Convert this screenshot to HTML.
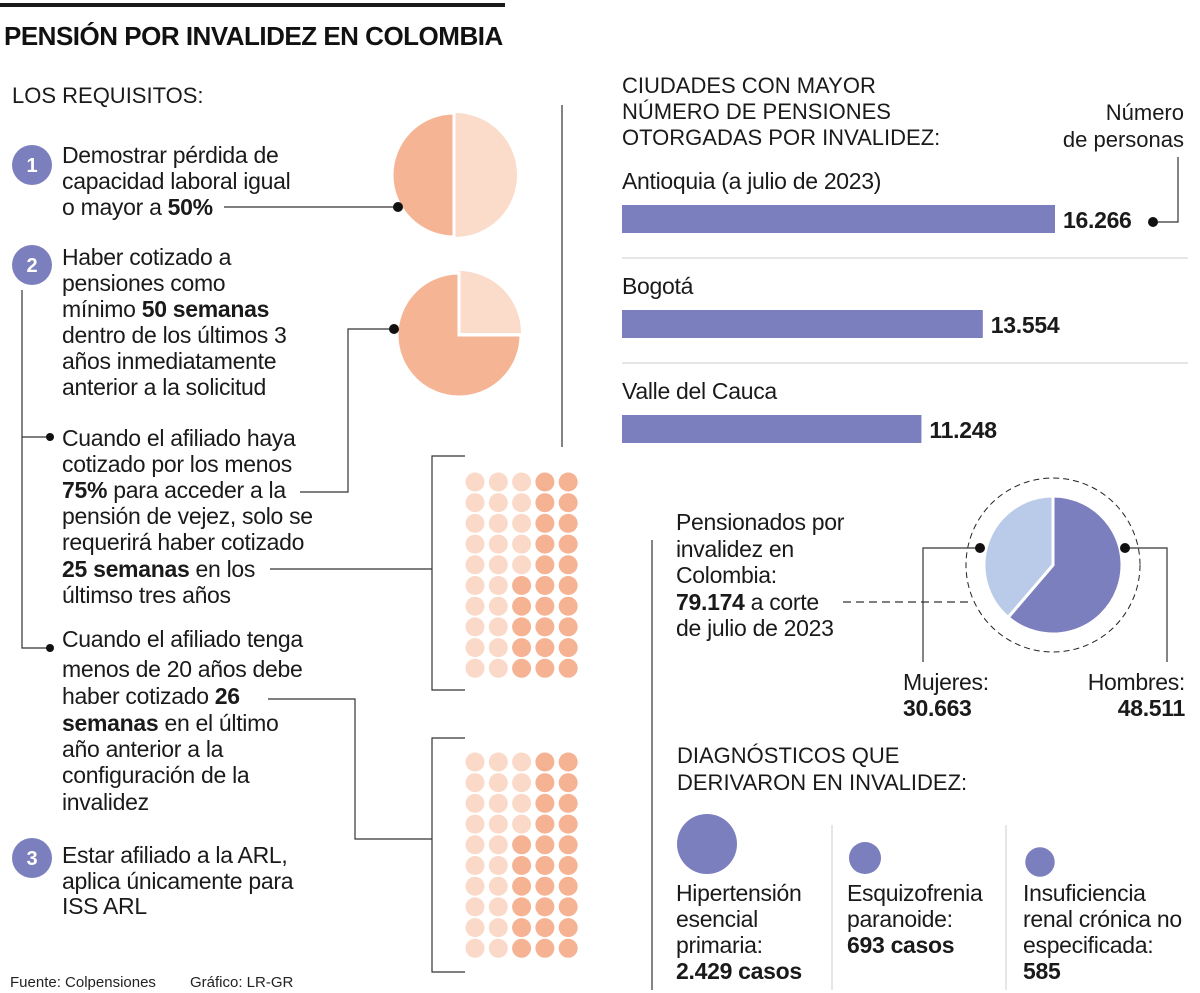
<!DOCTYPE html>
<html><head><meta charset="utf-8"><style>
html,body{margin:0;padding:0;background:#fff;}
svg{display:block;font-family:"Liberation Sans",sans-serif;}
.t{font-size:23px;fill:#1a1a1a;letter-spacing:-0.3px;}
.h{font-size:22px;fill:#1a1a1a;}
</style></head><body>
<svg id="root" width="1200" height="993" viewBox="0 0 1200 993">
<rect x="0" y="3" width="505" height="4" fill="#1a1a1a"/>
<text x="4" y="45" style="font-size:26px;font-weight:bold;letter-spacing:-0.5px" fill="#111">PENSIÓN POR INVALIDEZ EN COLOMBIA</text>
<text x="12" y="103" class="h">LOS REQUISITOS:</text>

<g id="leftcharts"></g>

<g fill="#7b7fbe">
<circle cx="32" cy="165" r="20"/><circle cx="32" cy="265" r="20"/><circle cx="32" cy="858" r="20"/>
</g>
<g fill="#fff" font-weight="bold" font-size="20" text-anchor="middle">
<text x="32" y="172">1</text>
<text x="32" y="272">2</text>
<text x="32" y="865">3</text>
</g>

<g>
<text x="62" y="163" class="t">Demostrar pérdida de</text>
<text x="62" y="189" class="t">capacidad laboral igual</text>
<text x="62" y="215" class="t">o mayor a <tspan font-weight="bold">50%</tspan></text>
</g>
<g>
<text x="62" y="265" class="t">Haber cotizado a</text>
<text x="62" y="291" class="t">pensiones como</text>
<text x="62" y="317" class="t">mínimo <tspan font-weight="bold">50 semanas</tspan></text>
<text x="62" y="343" class="t">dentro de los últimos 3</text>
<text x="62" y="369" class="t">años inmediatamente</text>
<text x="62" y="395" class="t">anterior a la solicitud</text>
</g>
<g>
<text x="62" y="446" class="t">Cuando el afiliado haya</text>
<text x="62" y="472" class="t">cotizado por los menos</text>
<text x="62" y="498" class="t"><tspan font-weight="bold">75%</tspan> para acceder a la</text>
<text x="62" y="524" class="t">pensión de vejez, solo se</text>
<text x="62" y="550" class="t">requerirá haber cotizado</text>
<text x="62" y="577" class="t"><tspan font-weight="bold">25 semanas</tspan> en los</text>
<text x="62" y="603" class="t">últimso tres años</text>
</g>
<g>
<text x="62" y="647" class="t">Cuando el afiliado tenga</text>
<text x="62" y="677" class="t">menos de 20 años debe</text>
<text x="62" y="704" class="t">haber cotizado <tspan font-weight="bold">26</tspan></text>
<text x="62" y="731" class="t"><tspan font-weight="bold">semanas</tspan> en el último</text>
<text x="62" y="757" class="t">año  anterior a la</text>
<text x="62" y="783" class="t">configuración de la</text>
<text x="62" y="810" class="t">invalidez</text>
</g>
<g>
<text x="62" y="863" class="t">Estar afiliado a la ARL,</text>
<text x="62" y="889" class="t">aplica únicamente para</text>
<text x="62" y="914" class="t">ISS ARL</text>
</g>

<g stroke="#333" stroke-width="1.2" fill="none">
<line x1="224" y1="207" x2="398" y2="207"/>
<polyline points="22,290 22,648 50,648"/>
<line x1="22" y1="437" x2="50" y2="437"/>
<polyline points="394,329 348,329 348,492 300,492"/>
<line x1="270" y1="569" x2="432" y2="569"/>
<polyline points="268,699 355,699 355,839 432,839"/>
<polyline points="465,456 432,456 432,690 465,690"/>
<polyline points="465,738 432,738 432,972 465,972"/>
</g>
<g fill="#111">
<circle cx="398" cy="207" r="5"/>
<circle cx="394" cy="329" r="5"/>
<circle cx="50" cy="437" r="4"/>
<circle cx="50" cy="648" r="4"/>
</g>

<line x1="562" y1="105" x2="562" y2="447" stroke="#333" stroke-width="1.2"/>
<line x1="652" y1="540" x2="652" y2="990" stroke="#333" stroke-width="1.2"/>

<g>
<text x="622" y="93" class="h">CIUDADES CON MAYOR</text>
<text x="622" y="119" class="h">NÚMERO DE PENSIONES</text>
<text x="622" y="145" class="h">OTORGADAS POR  INVALIDEZ:</text>
</g>
<g text-anchor="end">
<text x="1184" y="120" class="h">Número</text>
<text x="1184" y="147" class="h">de personas</text>
</g>
<polyline points="1178,157 1178,222 1153,222" stroke="#333" stroke-width="1.2" fill="none"/>
<g id="bars"></g>

<g id="gender"></g>
<g>
<text x="676" y="530" class="t">Pensionados por</text>
<text x="676" y="557" class="t">invalidez en</text>
<text x="676" y="583" class="t">Colombia:</text>
<text x="676" y="610" class="t"><tspan font-weight="bold">79.174</tspan> a corte</text>
<text x="676" y="636" class="t">de julio de 2023</text>
</g>

<g>
<text x="677" y="763" class="h">DIAGNÓSTICOS QUE</text>
<text x="677" y="790" class="h">DERIVARON EN INVALIDEZ:</text>
</g>
<line x1="832" y1="825" x2="832" y2="990" stroke="#ccc"/>
<line x1="1006" y1="825" x2="1006" y2="990" stroke="#ccc"/>
<g id="diag"></g>
<g>
<text x="676" y="901" class="t">Hipertensión</text><text x="676" y="927" class="t">esencial</text><text x="676" y="953" class="t">primaria:</text><text x="676" y="979" class="t" font-weight="bold">2.429 casos</text>
</g>
<g>
<text x="847" y="901" class="t">Esquizofrenia</text><text x="847" y="927" class="t">paranoide:</text><text x="847" y="953" class="t" font-weight="bold">693 casos</text>
</g>
<g>
<text x="1023" y="901" class="t">Insuficiencia</text><text x="1023" y="927" class="t">renal crónica no</text><text x="1023" y="953" class="t">especificada:</text><text x="1023" y="979" class="t" font-weight="bold">585</text>
</g>
<text x="10" y="987" font-size="15" fill="#222">Fuente: Colpensiones</text>
<text x="190" y="987" font-size="15" fill="#222">Gráfico: LR-GR</text>
</svg>
<script>
const NS='http://www.w3.org/2000/svg';
const cities=['Antioquia (a julio de 2023)','Bogotá','Valle del Cauca'];
const cityValues=[16266,13554,11248];
const cityLabels=['16.266','13.554','11.248'];
const pieShares=[50,75];
const dotFilled=[25,26];
const genderLabels=['Mujeres','Hombres'];
const genderValues=[30663,48511];
const diagNames=['Hipertensión esencial primaria','Esquizofrenia paranoide','Insuficiencia renal crónica no especificada'];
const diagValues=[2429,693,585];

function el(tag,attrs,parent){const e=document.createElementNS(NS,tag);for(const k in attrs)e.setAttribute(k,attrs[k]);parent.appendChild(e);return e;}
function arc(cx,cy,r,a0,a1){const p=a=>[cx+r*Math.sin(a),cy-r*Math.cos(a)];const [x0,y0]=p(a0),[x1,y1]=p(a1);const large=(a1-a0)>Math.PI?1:0;return `M${cx},${cy}L${x0},${y0}A${r},${r} 0 ${large} 1 ${x1},${y1}Z`;}

const bars=document.getElementById('bars');
const xScale=v=>v*433/16266;
cities.forEach((c,i)=>{
  const y0=181+i*105;
  const t=el('text',{x:622,y:y0+8,class:'t'},bars);t.textContent=c;
  
  
  const w=xScale(cityValues[i]);
  const r=el('rect',{x:622,y:y0+24,width:w,height:28,fill:'#7b7fbe'},bars);
  
  
  const v=el('text',{x:622+w+8,y:y0+47,class:'t','font-weight':'bold'},bars);v.textContent=cityLabels[i];
  
  
  if(i<cities.length-1){const l=el('line',{x1:622,x2:1188,y1:y0+77,y2:y0+77,stroke:'#ccc'},bars);
    
    }
});
const udot=el('circle',{cx:1153,cy:222,r:5,fill:'#111'},bars);



const lc=document.getElementById('leftcharts');
const pieC=[[454,175],[459,335]];
pieShares.forEach((s,i)=>{
  const [cx,cy]=pieC[i];const r=62;
  const a=2*Math.PI*(1-s/100);
  const light=el('path',{d:arc(cx+(i?0:1),cy-(i?2:0),r,0,a),fill:'#fbdbc9'},lc);
  
  
  const dark=el('path',{d:arc(cx,cy,r,a,2*Math.PI),fill:'#f5b595',stroke:'#fff','stroke-width':3},lc);
  
  
});
const gridTop=[482,762];
dotFilled.forEach((n,g)=>{
  for(let c=0;c<5;c++)for(let r=0;r<10;r++){
    const idx=(4-c)*10+(9-r);
    const d=el('circle',{cx:475+c*23.3,cy:gridTop[g]+r*20.7,r:9.5,fill:idx<n?'#f5b393':'#fbd9c8'},lc);
    
    
  }
});

const gp=document.getElementById('gender');
const gcx=1053,gcy=565,gr=69;
const tot=genderValues[0]+genderValues[1];
const aM=2*Math.PI*genderValues[1]/tot;
const ring=el('circle',{cx:gcx,cy:gcy,r:87,fill:'none',stroke:'#222','stroke-dasharray':'6,4'},gp);


const sm=el('path',{d:arc(gcx,gcy,gr,0,aM),fill:'#7b7fbe',stroke:'#fff','stroke-width':3},gp);


const sf=el('path',{d:arc(gcx,gcy,gr,aM,2*Math.PI),fill:'#b9cbe8',stroke:'#fff','stroke-width':3},gp);


const gl=el('g',{stroke:'#333','stroke-width':1.2,fill:'none'},gp);
el('polyline',{points:'980,548 923,548 923,662'},gl);
el('polyline',{points:'1125,548 1167,548 1167,662'},gl);
el('line',{x1:843,y1:602,x2:970,y2:602,'stroke-dasharray':'8,5'},gl);


[[980,548],[1125,548]].forEach(p=>{const c=el('circle',{cx:p[0],cy:p[1],r:5,fill:'#111'},gp);
  
  });
const fmt=v=>String(v).replace(/\B(?=(\d{3})+(?!\d))/g,'.');
const gpos=[[903,'start'],[1185,'end']];
genderLabels.forEach((g,i)=>{
  const a=el('text',{x:gpos[i][0],y:690,class:'t','text-anchor':gpos[i][1]},gp);a.textContent=g+':';
  
  
  const b=el('text',{x:gpos[i][0],y:716,class:'t','font-weight':'bold','text-anchor':gpos[i][1]},gp);b.textContent=fmt(genderValues[i]);
  
  
});

const dg=document.getElementById('diag');
const dx=[707,865,1040],baseY=[844,858,862];
diagValues.forEach((v,i)=>{
  const r=30*Math.sqrt(v/diagValues[0]);
  const c=el('circle',{cx:dx[i],cy:baseY[i],r:r,fill:'#7b7fbe'},dg);
  
  
});
</script>
</body></html>
